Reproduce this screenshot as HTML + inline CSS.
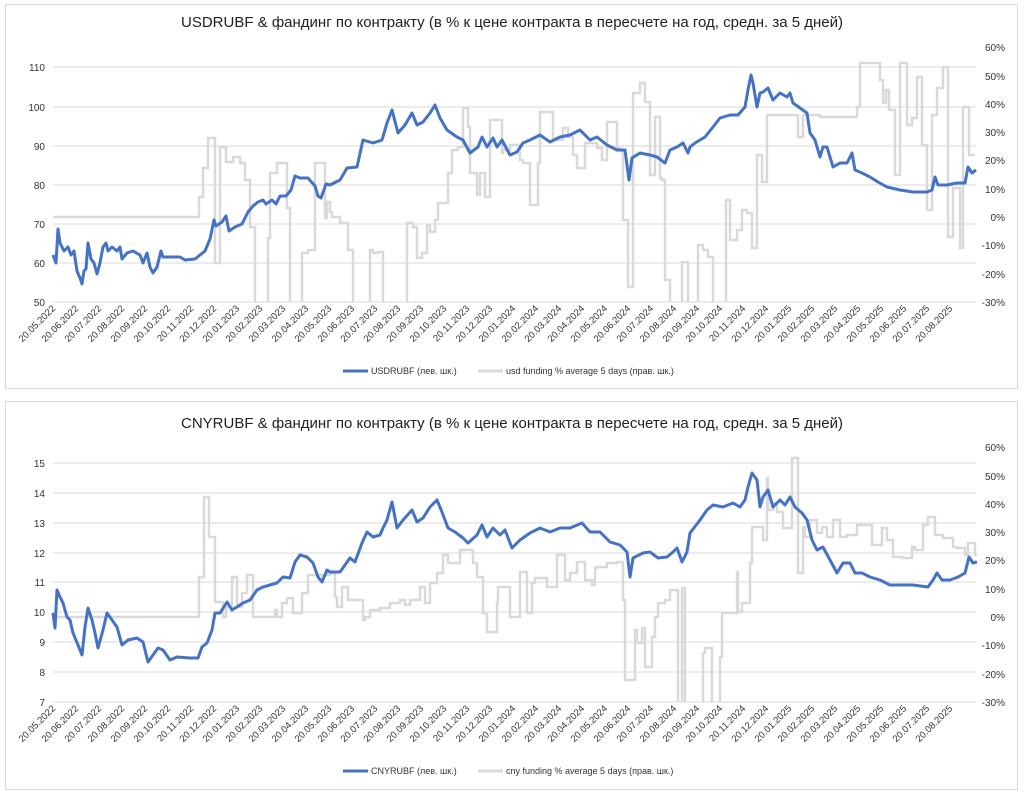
<!DOCTYPE html>
<html><head><meta charset="utf-8"><style>
body{margin:0;background:#fff;}
svg{display:block;font-family:"Liberation Sans",sans-serif;}
</style></head><body>
<svg width="1024" height="796" viewBox="0 0 1024 796" xmlns="http://www.w3.org/2000/svg">
<defs>
<clipPath id="c1"><rect x="40" y="30" width="950" height="272"/></clipPath>
<clipPath id="c2"><rect x="40" y="430" width="950" height="272"/></clipPath>
</defs>
<rect x="5.5" y="4.5" width="1012" height="384" fill="#fff" stroke="#d9d9d9"/>
<rect x="5.5" y="401.5" width="1012" height="388" fill="#fff" stroke="#d9d9d9"/>

<!-- Chart 1 -->
<text x="512" y="27" font-size="15" text-anchor="middle" fill="#222">USDRUBF &amp; фандинг по контракту (в % к цене контракта в пересчете на год, средн. за 5 дней)</text>
<g stroke="#d9d9d9" stroke-width="1">
<line x1="53" x2="976" y1="67" y2="67"/><line x1="53" x2="976" y1="107" y2="107"/><line x1="53" x2="976" y1="146" y2="146"/><line x1="53" x2="976" y1="185" y2="185"/><line x1="53" x2="976" y1="224" y2="224"/><line x1="53" x2="976" y1="263" y2="263"/><line x1="53" x2="976" y1="302" y2="302"/>
</g>
<g font-size="10" fill="#333" text-anchor="end">
<text x="45" y="71">110</text><text x="45" y="111">100</text><text x="45" y="150">90</text><text x="45" y="189">80</text><text x="45" y="228">70</text><text x="45" y="267">60</text><text x="45" y="306">50</text>
</g>
<g font-size="10" fill="#333" text-anchor="end">
<text x="1005" y="51">60%</text><text x="1005" y="80">50%</text><text x="1005" y="108">40%</text><text x="1005" y="136">30%</text><text x="1005" y="164">20%</text><text x="1005" y="193">10%</text><text x="1005" y="221">0%</text><text x="1005" y="249">-10%</text><text x="1005" y="278">-20%</text><text x="1005" y="306">-30%</text>
</g>
<polyline clip-path="url(#c1)" fill="none" stroke="#d9d9d9" stroke-width="2.5" points="53,217 199,217 199,197 203,197 203,168 208,168 208,138 215,138 215,263 220,263 220,147 226,147 226,162 233,162 233,157 240,157 240,163 245,163 245,180 250,180 250,227 255,227 255,310 268,310 268,238 270,238 270,173 277,173 277,163 287,163 287,208 290,208 290,310 302,310 302,253 308,253 308,250 315,250 315,163 325,163 325,218 327,218 327,202 330,202 330,212 332,212 332,217 340,217 340,223 348,223 348,250 353,250 353,310 358,310 358,310 370,310 370,250 373,250 373,253 378,253 378,252 383,252 383,310 400,310 400,310 407,310 407,223 413,223 413,227 417,227 417,258 422,258 422,253 427,253 427,225 430,225 430,232 435,232 435,220 438,220 438,203 443,203 443,203 448,203 448,173 452,173 452,150 458,150 458,147 463,147 463,108 468,108 468,127 470,127 470,173 477,173 477,195 480,195 480,173 485,173 485,197 490,197 490,120 495,120 495,120 502,120 502,153 503,153 503,150 510,150 510,145 520,145 520,160 523,160 523,163 530,163 530,205 533,205 533,205 538,205 538,163 540,163 540,112 547,112 547,112 553,112 553,140 555,140 555,140 563,140 563,128 568,128 568,137 573,137 573,155 577,155 577,168 582,168 582,168 585,168 585,143 587,143 587,143 597,143 597,148 602,148 602,160 607,160 607,122 612,122 612,122 617,122 617,148 620,148 620,150 623,150 623,220 628,220 628,287 630,287 630,287 633,287 633,93 635,93 635,93 640,93 640,83 642,83 642,83 645,83 645,102 647,102 647,102 650,102 650,175 652,175 652,175 655,175 655,117 657,117 657,117 660,117 660,178 662,178 662,180 665,180 665,280 667,280 667,280 670,280 670,310 672,310 672,310 682,310 682,262 683,262 683,262 688,262 688,310 690,310 690,310 698,310 698,245 703,245 703,250 708,250 708,257 713,257 713,310 726,310 726,200 730,200 730,240 737,240 737,230 742,230 742,210 747,210 747,213 752,213 752,248 757,248 757,155 762,155 762,182 767,182 767,115 798,115 798,137 803,137 803,115 820,115 820,117 857,117 857,107 860,107 860,63 880,63 880,80 883,80 883,103 886,103 886,90 889,90 889,110 895,110 895,175 900,175 900,63 907,63 907,125 912,125 912,118 917,118 917,77 922,77 922,145 927,145 927,210 932,210 932,115 937,115 937,88 943,88 943,67 948,67 948,237 953,237 953,188 960,188 960,248 963,248 963,107 969,107 969,155 975,155"/>
<polyline fill="none" stroke="#4472c4" stroke-width="3" stroke-linejoin="round" points="53,255 56,263 58,229 60,243 64,251 68,247 71,255 74,251 77,271 80,278 82,284 84,271 86,269 88,243 91,259 94,263 97,274 100,263 103,247 106,243 108,251 112,247 117,251 120,247 122,259 127,253 133,251 140,255 143,263 147,253 150,267 153,273 157,267 161,251 163,257 170,257 180,257 185,260 195,259 200,255 205,251 210,239 214,220 216,226 222,222 226,216 229,231 235,227 242,224 248,212 253,206 258,202 263,200 266,204 272,200 276,204 280,196 286,196 291,190 295,176 300,178 308,178 315,186 318,196 321,198 326,184 330,185 340,180 347,168 357,167 363,140 373,143 382,140 387,123 392,110 398,133 405,125 412,113 417,125 423,122 430,113 435,105 440,118 447,130 457,137 463,140 470,153 478,147 482,137 487,147 493,138 497,147 502,140 510,155 517,152 523,143 530,140 540,135 550,142 560,137 570,135 580,130 590,140 597,137 607,145 617,150 625,150 629,180 632,158 640,153 650,155 657,157 665,163 670,150 677,147 683,143 688,153 690,147 695,143 705,137 713,127 720,118 730,115 738,115 745,107 748,90 751,75 753,83 757,107 760,93 763,92 768,88 773,100 780,93 787,97 790,93 793,103 800,108 807,113 810,133 815,140 820,157 823,147 827,147 833,167 840,163 847,163 852,153 855,170 862,173 870,177 878,182 887,187 900,190 913,192 927,192 932,190 935,177 938,185 947,185 957,183 965,183 968,167 972,173 976,170"/>
<line x1="343" x2="368" y1="371" y2="371" stroke="#4472c4" stroke-width="3"/>
<text x="371" y="374" font-size="9" fill="#333">USDRUBF (лев. шк.)</text>
<line x1="478" x2="503" y1="371" y2="371" stroke="#d9d9d9" stroke-width="3"/>
<text x="506" y="374" font-size="9" fill="#333">usd funding % average 5 days (прав. шк.)</text>

<!-- Chart 2 -->
<text x="512" y="428" font-size="15" text-anchor="middle" fill="#222">CNYRUBF &amp; фандинг по контракту (в % к цене контракта в пересчете на год, средн. за 5 дней)</text>
<g stroke="#d9d9d9" stroke-width="1">
<line x1="53" x2="976" y1="463" y2="463"/><line x1="53" x2="976" y1="493" y2="493"/><line x1="53" x2="976" y1="523" y2="523"/><line x1="53" x2="976" y1="553" y2="553"/><line x1="53" x2="976" y1="582" y2="582"/><line x1="53" x2="976" y1="612" y2="612"/><line x1="53" x2="976" y1="642" y2="642"/><line x1="53" x2="976" y1="672" y2="672"/><line x1="53" x2="976" y1="702" y2="702"/>
</g>
<g font-size="10" fill="#333" text-anchor="end">
<text x="45" y="467">15</text><text x="45" y="497">14</text><text x="45" y="527">13</text><text x="45" y="557">12</text><text x="45" y="586">11</text><text x="45" y="616">10</text><text x="45" y="646">9</text><text x="45" y="676">8</text><text x="45" y="706">7</text>
</g>
<g font-size="10" fill="#333" text-anchor="end">
<text x="1005" y="451">60%</text><text x="1005" y="480">50%</text><text x="1005" y="508">40%</text><text x="1005" y="536">30%</text><text x="1005" y="564">20%</text><text x="1005" y="593">10%</text><text x="1005" y="621">0%</text><text x="1005" y="649">-10%</text><text x="1005" y="678">-20%</text><text x="1005" y="706">-30%</text>
</g>
<polyline clip-path="url(#c2)" fill="none" stroke="#d9d9d9" stroke-width="2.5" points="53,617 199,617 199,577 204,577 204,497 209,497 209,537 215,537 215,602 223,602 223,617 226,617 226,607 232,607 232,577 237,577 237,607 242,607 242,593 247,593 247,575 253,575 253,617 275,617 275,610 277,610 277,617 282,617 282,603 287,603 287,598 293,598 293,613 302,613 302,593 308,593 308,575 313,575 313,575 330,575 330,573 335,573 335,597 337,597 337,607 342,607 342,587 348,587 348,600 353,600 353,600 363,600 363,620 365,620 365,617 370,617 370,610 380,610 380,608 390,608 390,603 400,603 400,600 405,600 405,605 410,605 410,600 420,600 420,587 425,587 425,603 430,603 430,583 437,583 437,573 443,573 443,555 448,555 448,563 453,563 453,563 460,563 460,550 465,550 465,550 473,550 473,563 477,563 477,577 483,577 483,613 487,613 487,632 492,632 492,632 497,632 497,603 498,603 498,587 510,587 510,617 513,617 513,617 520,617 520,572 527,572 527,613 532,613 532,583 535,583 535,578 547,578 547,587 557,587 557,555 565,555 565,580 570,580 570,573 577,573 577,562 585,562 585,580 592,580 592,585 595,585 595,568 597,568 597,567 607,567 607,563 617,563 617,562 623,562 623,600 625,600 625,680 630,680 630,680 635,680 635,630 637,630 637,643 642,643 642,628 645,628 645,667 652,667 652,637 655,637 655,617 658,617 658,603 665,603 665,600 670,600 670,590 678,590 678,703 682,703 682,588 685,588 685,710 703,710 703,653 705,653 705,648 712,648 712,710 720,710 720,657 722,657 722,613 725,613 725,613 737,613 737,572 738,572 738,612 742,612 742,603 750,603 750,563 752,563 752,527 757,527 757,527 763,527 763,540 767,540 767,478 768,478 768,510 773,510 773,503 777,503 777,512 783,512 783,528 792,528 792,458 795,458 795,458 798,458 798,573 803,573 803,527 805,527 805,537 810,537 810,520 817,520 817,533 822,533 822,527 827,527 827,537 833,537 833,520 840,520 840,537 847,537 847,535 857,535 857,525 862,525 862,525 872,525 872,545 875,545 875,545 882,545 882,528 887,528 887,540 893,540 893,557 902,557 902,558 912,558 912,547 915,547 915,550 923,550 923,525 928,525 928,517 935,517 935,535 943,535 943,538 953,538 953,547 957,547 957,548 965,548 965,555 968,555 968,543 975,543 975,555 977,555"/>
<polyline fill="none" stroke="#4472c4" stroke-width="3" stroke-linejoin="round" points="53,613 55,628 57,590 60,597 63,603 67,617 70,620 73,633 78,645 82,655 85,627 88,608 92,620 95,633 98,648 103,630 107,613 112,620 117,627 122,645 128,640 137,638 143,642 148,662 153,655 158,648 163,650 170,660 177,657 190,658 198,658 202,647 207,643 212,630 215,613 220,613 227,602 232,610 237,607 243,603 250,600 257,590 263,587 270,585 277,583 283,577 290,578 295,562 300,555 307,557 313,563 318,577 322,582 327,570 330,572 340,572 350,558 355,562 362,543 367,532 373,537 380,535 383,528 387,520 392,502 397,528 403,520 412,510 417,522 423,518 430,507 437,500 442,512 448,528 455,532 463,538 468,543 477,535 482,525 487,537 493,528 500,535 505,530 512,548 520,540 530,533 540,528 550,532 560,528 570,528 582,523 590,532 600,532 610,542 620,545 627,552 630,577 633,558 643,553 650,552 658,558 667,557 673,552 677,548 682,562 687,552 690,533 700,520 707,510 713,505 723,507 733,503 740,507 745,500 748,487 752,473 757,480 760,507 763,497 768,490 773,507 780,500 785,505 790,497 795,507 802,513 807,520 812,540 817,550 823,547 830,560 837,573 843,563 850,563 855,573 862,573 870,577 880,580 890,585 900,585 913,585 928,587 933,580 937,573 942,580 950,580 958,577 965,573 969,557 973,563 977,562"/>
<line x1="343" x2="368" y1="771" y2="771" stroke="#4472c4" stroke-width="3"/>
<text x="371" y="774" font-size="9" fill="#333">CNYRUBF (лев. шк.)</text>
<line x1="478" x2="503" y1="771" y2="771" stroke="#d9d9d9" stroke-width="3"/>
<text x="506" y="774" font-size="9" fill="#333">cny funding % average 5 days (прав. шк.)</text>

<!-- date labels -->
<g font-size="9.5" fill="#333" text-anchor="end">
<text transform="translate(56,309) rotate(-45)">20.05.2022</text><text transform="translate(79,309) rotate(-45)">20.06.2022</text><text transform="translate(102,309) rotate(-45)">20.07.2022</text><text transform="translate(125,309) rotate(-45)">20.08.2022</text><text transform="translate(148,309) rotate(-45)">20.09.2022</text><text transform="translate(171,309) rotate(-45)">20.10.2022</text><text transform="translate(194,309) rotate(-45)">20.11.2022</text><text transform="translate(217,309) rotate(-45)">20.12.2022</text><text transform="translate(240,309) rotate(-45)">20.01.2023</text><text transform="translate(263,309) rotate(-45)">20.02.2023</text><text transform="translate(286,309) rotate(-45)">20.03.2023</text><text transform="translate(309,309) rotate(-45)">20.04.2023</text><text transform="translate(332,309) rotate(-45)">20.05.2023</text><text transform="translate(355,309) rotate(-45)">20.06.2023</text><text transform="translate(378,309) rotate(-45)">20.07.2023</text><text transform="translate(401,309) rotate(-45)">20.08.2023</text><text transform="translate(424,309) rotate(-45)">20.09.2023</text><text transform="translate(447,309) rotate(-45)">20.10.2023</text><text transform="translate(470,309) rotate(-45)">20.11.2023</text><text transform="translate(493,309) rotate(-45)">20.12.2023</text><text transform="translate(516,309) rotate(-45)">20.01.2024</text><text transform="translate(539,309) rotate(-45)">20.02.2024</text><text transform="translate(562,309) rotate(-45)">20.03.2024</text><text transform="translate(585,309) rotate(-45)">20.04.2024</text><text transform="translate(608,309) rotate(-45)">20.05.2024</text><text transform="translate(631,309) rotate(-45)">20.06.2024</text><text transform="translate(654,309) rotate(-45)">20.07.2024</text><text transform="translate(677,309) rotate(-45)">20.08.2024</text><text transform="translate(700,309) rotate(-45)">20.09.2024</text><text transform="translate(723,309) rotate(-45)">20.10.2024</text><text transform="translate(746,309) rotate(-45)">20.11.2024</text><text transform="translate(769,309) rotate(-45)">20.12.2024</text><text transform="translate(792,309) rotate(-45)">20.01.2025</text><text transform="translate(815,309) rotate(-45)">20.02.2025</text><text transform="translate(838,309) rotate(-45)">20.03.2025</text><text transform="translate(861,309) rotate(-45)">20.04.2025</text><text transform="translate(884,309) rotate(-45)">20.05.2025</text><text transform="translate(907,309) rotate(-45)">20.06.2025</text><text transform="translate(930,309) rotate(-45)">20.07.2025</text><text transform="translate(953,309) rotate(-45)">20.08.2025</text>
</g>
<g font-size="9.5" fill="#333" text-anchor="end">
<text transform="translate(56,709) rotate(-45)">20.05.2022</text><text transform="translate(79,709) rotate(-45)">20.06.2022</text><text transform="translate(102,709) rotate(-45)">20.07.2022</text><text transform="translate(125,709) rotate(-45)">20.08.2022</text><text transform="translate(148,709) rotate(-45)">20.09.2022</text><text transform="translate(171,709) rotate(-45)">20.10.2022</text><text transform="translate(194,709) rotate(-45)">20.11.2022</text><text transform="translate(217,709) rotate(-45)">20.12.2022</text><text transform="translate(240,709) rotate(-45)">20.01.2023</text><text transform="translate(263,709) rotate(-45)">20.02.2023</text><text transform="translate(286,709) rotate(-45)">20.03.2023</text><text transform="translate(309,709) rotate(-45)">20.04.2023</text><text transform="translate(332,709) rotate(-45)">20.05.2023</text><text transform="translate(355,709) rotate(-45)">20.06.2023</text><text transform="translate(378,709) rotate(-45)">20.07.2023</text><text transform="translate(401,709) rotate(-45)">20.08.2023</text><text transform="translate(424,709) rotate(-45)">20.09.2023</text><text transform="translate(447,709) rotate(-45)">20.10.2023</text><text transform="translate(470,709) rotate(-45)">20.11.2023</text><text transform="translate(493,709) rotate(-45)">20.12.2023</text><text transform="translate(516,709) rotate(-45)">20.01.2024</text><text transform="translate(539,709) rotate(-45)">20.02.2024</text><text transform="translate(562,709) rotate(-45)">20.03.2024</text><text transform="translate(585,709) rotate(-45)">20.04.2024</text><text transform="translate(608,709) rotate(-45)">20.05.2024</text><text transform="translate(631,709) rotate(-45)">20.06.2024</text><text transform="translate(654,709) rotate(-45)">20.07.2024</text><text transform="translate(677,709) rotate(-45)">20.08.2024</text><text transform="translate(700,709) rotate(-45)">20.09.2024</text><text transform="translate(723,709) rotate(-45)">20.10.2024</text><text transform="translate(746,709) rotate(-45)">20.11.2024</text><text transform="translate(769,709) rotate(-45)">20.12.2024</text><text transform="translate(792,709) rotate(-45)">20.01.2025</text><text transform="translate(815,709) rotate(-45)">20.02.2025</text><text transform="translate(838,709) rotate(-45)">20.03.2025</text><text transform="translate(861,709) rotate(-45)">20.04.2025</text><text transform="translate(884,709) rotate(-45)">20.05.2025</text><text transform="translate(907,709) rotate(-45)">20.06.2025</text><text transform="translate(930,709) rotate(-45)">20.07.2025</text><text transform="translate(953,709) rotate(-45)">20.08.2025</text>
</g>
</svg>
</body></html>
